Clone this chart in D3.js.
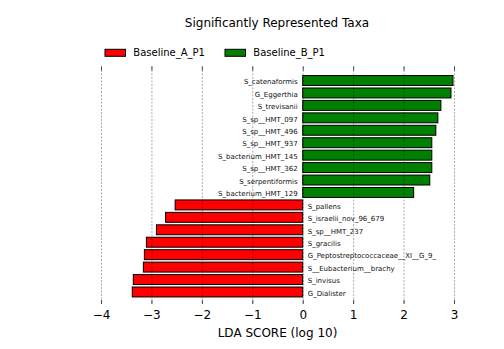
<!DOCTYPE html>
<html>
<head>
<meta charset="utf-8">
<script src="https://cdn.jsdelivr.net/npm/d3@7"></script>
<style>
  html, body { margin: 0; padding: 0; background: #fff; }
  svg { display: block; font-family: 'DejaVu Sans', sans-serif; }
</style>
</head>
<body>
<svg id="chart" width="504" height="349"></svg>
<script>
// LEfSe-style LDA bar chart: one group per class, bars sorted by score

const classNames = ['Baseline_A_P1', 'Baseline_B_P1'];
const classColors = ['#ff0000', '#008000'];

const taxaB = ['S_catenaformis', 'G_Eggerthia', 'S_trevisanii', 'S_sp__HMT_097', 'S_sp__HMT_496',
               'S_sp__HMT_937', 'S_bacterium_HMT_145', 'S_sp__HMT_362', 'S_serpentiformis', 'S_bacterium_HMT_129'];
const scoresB = [2.98, 2.94, 2.74, 2.68, 2.64, 2.56, 2.56, 2.56, 2.52, 2.20];

const taxaA = ['S_pallens', 'S_israelii_nov_96_679', 'S_sp__HMT_237', 'S_gracilis',
               'G_Peptostreptococcaceae__XI__G_9_', 'S__Eubacterium__brachy', 'S_invisus', 'G_Dialister'];
const scoresA = [-2.53, -2.72, -2.90, -3.10, -3.14, -3.16, -3.36, -3.38];

const xTicks = [-4, -3, -2, -1, 0, 1, 2, 3];

const rows = [
  ...taxaB.map((t, i) => ({ name: t, value: scoresB[i], cls: 1 })),
  ...taxaA.map((t, i) => ({ name: t, value: scoresA[i], cls: 0 })),
];

const svg = d3.select('#chart');
const plotTop = 66.5, plotBottom = 304;

const x = d3.scaleLinear().domain([-4, 3]).range([101, 454]);
const y = d3.scaleBand()
  .domain(rows.map(d => d.name))
  .range([74.3, 298.2])
  .paddingInner(0.2)
  .paddingOuter(0.1);

// title
svg.append('text')
  .attr('x', 277).attr('y', 26.5)
  .attr('text-anchor', 'middle')
  .attr('font-size', 12)
  .text('Significantly Represented Taxa');

// legend
const legend = svg.append('g');
classNames.forEach((name, i) => {
  const lx = 105 + i * 120;
  legend.append('rect')
    .attr('x', lx).attr('y', 49.3)
    .attr('width', 20.5).attr('height', 7)
    .attr('fill', classColors[i])
    .attr('stroke', '#000').attr('stroke-width', 1);
  legend.append('text')
    .attr('x', lx + 28.3).attr('y', 56.3)
    .attr('font-size', 10)
    .text(name);
});

// bars
svg.append('g').selectAll('rect')
  .data(rows)
  .join('rect')
  .attr('x', d => x(Math.min(0, d.value)))
  .attr('y', d => y(d.name))
  .attr('width', d => Math.abs(x(d.value) - x(0)))
  .attr('height', y.bandwidth())
  .attr('fill', d => classColors[d.cls])
  .attr('stroke', '#000')
  .attr('stroke-width', 1);

// taxon labels on the opposite side of zero
svg.append('g').selectAll('text')
  .data(rows)
  .join('text')
  .attr('x', d => d.value > 0 ? x(0) - 5 : x(0) + 5)
  .attr('y', d => y(d.name) + 8.7)
  .attr('text-anchor', d => d.value > 0 ? 'end' : 'start')
  .attr('font-size', 7)
  .attr('fill', '#111')
  .text(d => d.name);

// dashed grid drawn over the bars
svg.append('g').selectAll('line')
  .data(xTicks)
  .join('line')
  .attr('x1', d => x(d) + 0.5).attr('x2', d => x(d) + 0.5)
  .attr('y1', plotTop).attr('y2', plotBottom)
  .attr('stroke', '#000')
  .attr('stroke-opacity', 0.33)
  .attr('stroke-dasharray', '2,1.5');

// inward tick marks top and bottom
const ticks = svg.append('g').attr('stroke', '#444').attr('stroke-width', 1);
xTicks.forEach(t => {
  ticks.append('line')
    .attr('x1', x(t) + 0.5).attr('x2', x(t) + 0.5)
    .attr('y1', plotTop).attr('y2', plotTop + 4);
  ticks.append('line')
    .attr('x1', x(t) + 0.5).attr('x2', x(t) + 0.5)
    .attr('y1', plotBottom - 4).attr('y2', plotBottom);
});

// tick labels
svg.append('g').selectAll('text')
  .data(xTicks)
  .join('text')
  .attr('x', d => x(d) + 0.5)
  .attr('y', 318.5)
  .attr('text-anchor', 'middle')
  .attr('font-size', 12)
  .text(d => d3.format('d')(d).replace('-', '\u2212'));

// axis title
svg.append('text')
  .attr('x', 277.5).attr('y', 336.5)
  .attr('text-anchor', 'middle')
  .attr('font-size', 12)
  .text('LDA SCORE (log 10)');
</script>
</body>
</html>
